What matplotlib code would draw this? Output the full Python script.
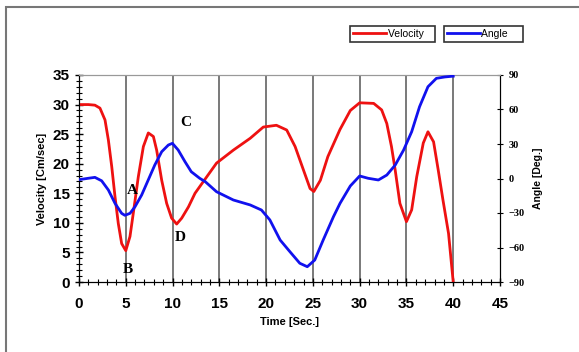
import matplotlib
matplotlib.use('Agg')
import matplotlib.pyplot as plt
from matplotlib.patches import Rectangle
from matplotlib.lines import Line2D

# velocity (red)
t_vel = [0, 1, 1.7, 2.24, 2.78, 3.14, 3.5, 3.85, 4.2, 4.56, 5.0, 5.45, 5.8, 6.34,
         6.88, 7.41, 7.95, 8.3, 8.84, 9.37, 9.9, 10.44, 10.98, 11.7, 12.4, 13.3,
         14.7, 16.5, 18.3, 19.7, 21.1, 22.2, 23.1, 24.0, 24.7, 25.1, 25.8, 26.6,
         27.9, 29.0, 30.0, 31.5, 32.35, 32.9, 33.4, 33.8, 34.3, 35.0, 35.56, 36.1,
         36.8, 37.3, 37.9, 38.4, 38.9, 39.5, 40.0]
velocity = [30.0, 30.0, 29.9, 29.4, 27.4, 24.0, 19.5, 14.4, 9.9, 6.5, 5.3, 7.7, 11.6,
            17.8, 22.9, 25.2, 24.6, 22.3, 17.2, 13.3, 10.8, 9.8, 10.8, 12.7, 15.0,
            17.0, 20.1, 22.3, 24.3, 26.2, 26.5, 25.7, 22.9, 18.9, 15.8, 15.3, 17.2,
            21.2, 25.8, 29.0, 30.3, 30.2, 29.1, 26.8, 22.9, 18.9, 13.3, 10.2, 12.2,
            17.8, 23.5, 25.4, 23.7, 18.9, 13.9, 8.2, 0.0]

# angle (blue)
t_ang = [0, 1.0, 1.7, 2.42, 3.14, 3.85, 4.56, 4.9, 5.45, 5.99, 6.7, 7.4, 8.1, 8.84,
         9.55, 9.98, 10.6, 11.33, 12.0, 12.9, 13.5, 14.7, 16.5, 18.3, 19.5, 20.4,
         21.5, 22.55, 23.6, 24.4, 25.2, 26.1, 27.2, 27.9, 29.0, 30.0, 30.9, 32.0,
         32.9, 33.8, 34.7, 35.56, 36.4, 37.3, 38.2, 39.1, 40.0]
angle = [-1, 0.2, 1.0, -2, -10, -21.6, -30.3, -32, -30.3, -24.5, -14.3, -1.3, 11.7,
         23.3, 29.1, 30.6, 24.8, 14.6, 5.9, 0.2, -2.8, -11.5, -18.7, -23, -27.4, -36,
         -53.5, -63.7, -73.7, -76.7, -70.9, -53.5, -33.2, -21.6, -6.5, 2.2, 0.2, -1.3,
         3, 11.7, 24.8, 40.7, 62.4, 79.8, 87.1, 88.3, 89.0]

labels = {'A': (5.65, 15.5), 'B': (5.2, 2.1), 'C': (11.4, 26.9), 'D': (10.8, 7.6)}

W, H = 579, 352
fig = plt.figure(figsize=(W / 100, H / 100), dpi=100)
ax = fig.add_axes([79 / W, 1 - 282 / H, (500 - 79) / W, (282 - 75) / H])

for x in range(5, 45, 5):
    ax.axvline(x, color='#555555', lw=1.1, zorder=1)

ax.plot(t_vel, velocity, color='#ee1111', lw=2, zorder=3)
ax.set_xlim(0, 45)
ax.set_ylim(0, 35)
ax.set_xticks(range(0, 46, 5))
ax.set_xticks(range(0, 46), minor=True)
ax.set_yticks(range(0, 36, 5))
ax.set_yticks(range(0, 36), minor=True)
ax.tick_params(axis='both', which='major', direction='inout', length=6, width=1,
               labelsize=11)
ax.tick_params(axis='both', which='minor', direction='inout', length=4, width=0.8)
ax.tick_params(axis='x', pad=8)
for lab in ax.get_xticklabels() + ax.get_yticklabels():
    lab.set_fontfamily('Liberation Sans')
    lab.set_fontweight('bold')
ax.spines['top'].set_color('#999999')
ax.set_xlabel('Time [Sec.]', fontsize=8, fontweight='bold', family='Liberation Sans',
              labelpad=4)
ax.set_ylabel('Velocity [Cm/sec]', fontsize=8, fontweight='bold',
              family='Liberation Sans', labelpad=4)

for k, (x, y) in labels.items():
    ax.text(x, y, k, fontsize=11, fontweight='bold', family='Liberation Serif',
            ha='center', va='center', zorder=4)

ax2 = ax.twinx()
ax2.plot(t_ang, angle, color='#1111ee', lw=2, zorder=3)
ax2.set_ylim(-90, 90)
ax2.set_yticks(range(-90, 91, 30))
ax2.tick_params(axis='y', direction='inout', length=5, labelsize=7.5)
for lab in ax2.get_yticklabels():
    lab.set_fontfamily('Liberation Serif')
    lab.set_fontweight('bold')
ax2.spines['top'].set_color('#999999')
ax2.set_ylabel('Angle [Deg.]', fontsize=7.5, fontweight='bold',
               family='Liberation Sans', labelpad=6)

h1 = Line2D([], [], color='#ee1111', lw=2)
h2 = Line2D([], [], color='#1111ee', lw=2)
leg_kw = dict(loc='upper left', fancybox=False, edgecolor='#333333', framealpha=1,
              prop={'family': 'Liberation Sans', 'size': 7.5}, handlelength=3.2,
              handletextpad=0.1, borderpad=0.3, borderaxespad=0)
l1 = fig.legend(handles=[h1], labels=['Velocity   '], bbox_to_anchor=(350 / W, 1 - 26 / H),
                **leg_kw)
l2 = fig.legend(handles=[h2], labels=['Angle    '], bbox_to_anchor=(444 / W, 1 - 26 / H),
                **leg_kw)
l1.get_frame().set_linewidth(1.2)
l2.get_frame().set_linewidth(1.2)

fig.add_artist(Rectangle((6 / W, -0.1), 1, 1.1 - 7 / H, transform=fig.transFigure,
                         fill=False, edgecolor='#777777', lw=1.5))

fig.savefig('out.png', dpi=100)
